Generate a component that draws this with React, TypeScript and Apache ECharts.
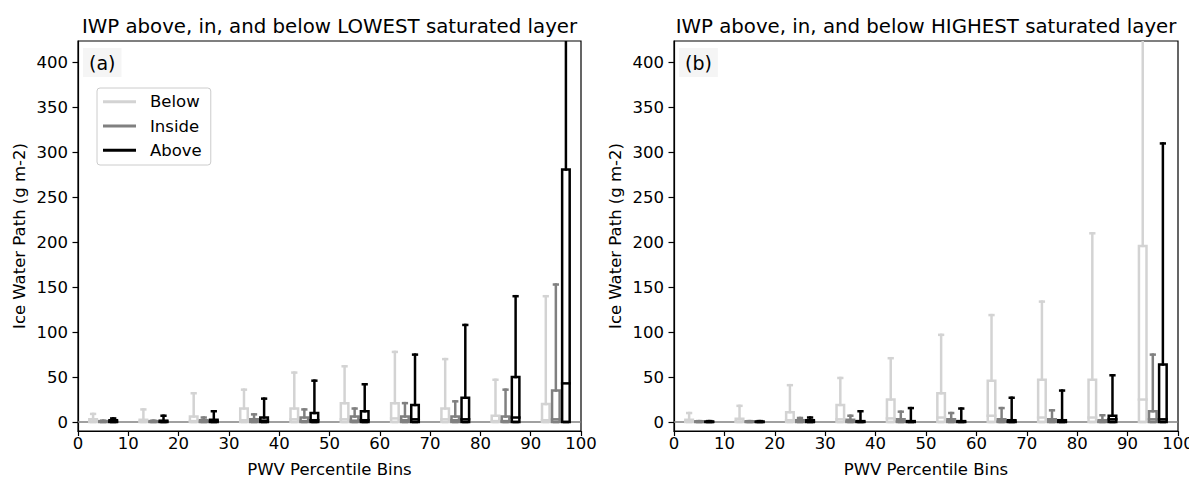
import React, { useEffect, useRef } from "react";
import * as echarts from "echarts";

// ---------- data ----------
const X_TICKS = [0, 10, 20, 30, 40, 50, 60, 70, 80, 90, 100];
const Y_TICKS = [0, 50, 100, 150, 200, 250, 300, 350, 400];
const BIN_STARTS = [0, 10, 20, 30, 40, 50, 60, 70, 80, 90];
const GROUP_NAMES = ["Below", "Inside", "Above"];
const GROUP_OFFSETS = [3, 5, 7];
const ZERO_LINE_X = [0, 100];

// each row: [min, q1, median, q3, upper whisker]
const LOWEST_BELOW = [
  [0, 0, 0.5, 3, 9],
  [0, 0, 0.5, 2.5, 14],
  [0, 0, 1, 6, 32],
  [0, 0, 2, 15, 36],
  [0, 0, 3, 15, 55],
  [0, 0, 3, 21, 62],
  [0, 0, 4, 21, 78],
  [0, 0, 3, 15, 70],
  [0, 0, 1, 7, 47],
  [0, 0, 2, 20, 140],
];
const LOWEST_INSIDE = [
  [0, 0, 0.3, 1, 1.5],
  [0, 0, 0.3, 1, 1.5],
  [0, 0, 0.5, 2, 5],
  [0, 0, 1, 3, 8.5],
  [0, 0, 1, 5, 14],
  [0, 0, 1.5, 6, 15],
  [0, 0, 2, 6, 21],
  [0, 0, 2, 6, 23],
  [0, 0, 1, 6, 36],
  [0, 0, 3, 35, 153],
];
const LOWEST_ABOVE = [
  [0, 0, 0.5, 2, 4],
  [0, 0, 0.5, 1.5, 7],
  [0, 0, 1, 2.5, 12],
  [0, 0, 1.5, 5, 26],
  [0, 0, 2, 10, 46],
  [0, 0, 2, 12, 42],
  [0, 0, 3, 19, 75],
  [0, 0, 3, 27, 108],
  [0, 0, 5, 50, 140],
  [0, 0, 43, 281, 600],
];
const HIGHEST_BELOW = [
  [0, 0, 0.5, 2.5, 10],
  [0, 0, 0.5, 3.5, 18],
  [0, 0, 2, 11, 41],
  [0, 0, 3, 19, 49],
  [0, 0, 4, 25, 71],
  [0, 0, 5, 32, 97],
  [0, 0, 7, 46, 119],
  [0, 0, 5, 47, 134],
  [0, 0, 5, 47, 210],
  [0, 0, 25, 196, 700],
];
const HIGHEST_INSIDE = [
  [0, 0, 0.2, 0.8, 1],
  [0, 0, 0.2, 0.8, 1],
  [0, 0, 0.5, 2, 4.5],
  [0, 0, 0.7, 2.5, 7],
  [0, 0, 1, 3, 11.5],
  [0, 0, 1, 3, 10],
  [0, 0, 1, 3, 15.5],
  [0, 0, 1, 3, 13],
  [0, 0, 0.5, 2, 7.5],
  [0, 0, 3, 12, 75],
];
const HIGHEST_ABOVE = [
  [0, 0, 0.2, 0.5, 1],
  [0, 0, 0.2, 0.5, 1],
  [0, 0, 0.5, 2, 5],
  [0, 0, 0.3, 1, 12],
  [0, 0, 0.3, 1, 15.5],
  [0, 0, 0.3, 1, 15],
  [0, 0, 0.5, 2, 27],
  [0, 0, 0.5, 2, 35],
  [0, 0, 3, 7, 52],
  [0, 0, 3, 64, 310],
];

const TITLES = [
  "IWP above, in, and below LOWEST saturated layer",
  "IWP above, in, and below HIGHEST saturated layer",
];
const PANEL_LABELS = ["(a)", "(b)"];
const COLORS = ["#d3d3d3", "#808080", "#000000"];

const Y_MIN = -10;
const Y_MAX = 424;
const FONT = "DejaVu Sans";
const LW = 2.5;

function renderBox(params: any, api: any) {
  const x = api.value(0);
  const clampV = (v: number) => Math.min(v, Y_MAX + 5);
  const lo = api.coord([x, api.value(1)]);
  const q1 = api.coord([x, api.value(2)]);
  const md = api.coord([x, api.value(3)]);
  const q3 = api.coord([x, api.value(4)]);
  const hi = api.coord([x, clampV(api.value(5))]);
  const unit = api.size([1, 0])[0];
  const hb = unit * 0.75;
  const hc = unit * 0.375;
  const color = api.visual("color");
  const st = { stroke: color, lineWidth: LW, fill: null, lineCap: "square" };
  const showCap = api.value(5) <= Y_MAX;
  const children: any[] = [
    { type: "line", shape: { x1: lo[0], y1: lo[1], x2: q1[0], y2: q1[1] }, style: st },
    { type: "line", shape: { x1: q3[0], y1: q3[1], x2: hi[0], y2: hi[1] }, style: st },
    { type: "line", shape: { x1: lo[0] - hc, y1: lo[1], x2: lo[0] + hc, y2: lo[1] }, style: st },
    {
      type: "rect",
      shape: { x: q3[0] - hb, y: q3[1], width: hb * 2, height: q1[1] - q3[1] },
      style: { stroke: color, lineWidth: LW, fill: null },
    },
    { type: "line", shape: { x1: md[0] - hb, y1: md[1], x2: md[0] + hb, y2: md[1] }, style: st },
  ];
  if (showCap) {
    children.push({
      type: "line",
      shape: { x1: hi[0] - hc, y1: hi[1], x2: hi[0] + hc, y2: hi[1] },
      style: st,
    });
  }
  return { type: "group", children };
}

function buildData(rows: number[][], offset: number) {
  return rows.map((r, i) => [BIN_STARTS[i] + offset, ...r]);
}

export default function App() {
  const ref = useRef<HTMLDivElement>(null);
  useEffect(() => {
    if (!ref.current) return;
    const chart = echarts.init(ref.current, null, { renderer: "svg" });
    const grids = [
      { left: 78, right: 1197 - 581, top: 41, bottom: 51 },
      { left: 674, right: 1197 - 1178, top: 41, bottom: 51 },
    ];
    const panelSets = [
      [LOWEST_BELOW, LOWEST_INSIDE, LOWEST_ABOVE],
      [HIGHEST_BELOW, HIGHEST_INSIDE, HIGHEST_ABOVE],
    ];
    const axisText = { color: "#000", fontSize: 16.5, fontFamily: FONT };
    const xAxes = grids.map((_, i) => ({
      type: "value",
      gridIndex: i,
      min: 0,
      max: 100,
      interval: 10,
      axisLine: { show: true, onZero: false, lineStyle: { color: "#000", width: 1.2 } },
      axisTick: { show: true, inside: false, length: 5, lineStyle: { color: "#000", width: 1.2 } },
      axisLabel: { ...axisText, margin: 4, formatter: (v: number) => (X_TICKS.includes(v) ? String(v) : "") },
      splitLine: { show: false },
      name: "PWV Percentile Bins",
      nameLocation: "middle",
      nameGap: 30,
      nameTextStyle: axisText,
    }));
    const yAxes = grids.map((_, i) => ({
      type: "value",
      gridIndex: i,
      min: Y_MIN,
      max: Y_MAX,
      axisLine: { show: true, onZero: false, lineStyle: { color: "#000", width: 1.2 } },
      axisTick: { show: true, inside: false, length: 5.5, customValues: Y_TICKS, lineStyle: { color: "#000", width: 1.2 } },
      axisLabel: { ...axisText, margin: 10, customValues: Y_TICKS },
      splitLine: { show: false },
      name: "Ice Water Path (g m-2)",
      nameLocation: "middle",
      nameGap: 50,
      nameTextStyle: axisText,
    }));
    const series: any[] = [];
    panelSets.forEach((sets, p) => {
      series.push({
        type: "line",
        name: "zero",
        xAxisIndex: p,
        yAxisIndex: p,
        data: ZERO_LINE_X.map((x) => [x, 0]),
        symbol: "none",
        silent: true,
        lineStyle: { color: "#808080", width: 1.6 },
        z: 1,
      });
      sets.forEach((rows, g) => {
        series.push({
          type: "custom",
          name: GROUP_NAMES[g],
          xAxisIndex: p,
          yAxisIndex: p,
          clip: true,
          itemStyle: { color: COLORS[g] },
          renderItem: renderBox,
          encode: { x: 0, y: [1, 2, 3, 4, 5] },
          data: buildData(rows, GROUP_OFFSETS[g]),
          z: 2,
        });
      });
    });
    const titles: any[] = [];
    TITLES.forEach((t, i) => {
      const g = grids[i];
      const cx = (g.left + (1197 - g.right)) / 2;
      titles.push({
        text: t,
        left: cx,
        top: 16,
        textAlign: "center",
        textStyle: { color: "#000", fontSize: 19.75, fontWeight: "normal", fontFamily: FONT },
        padding: 0,
      });
      titles.push({
        text: PANEL_LABELS[i],
        left: g.left + 5,
        top: 48,
        backgroundColor: "#f5f5f5",
        padding: [5, 6, 5, 6],
        textStyle: { color: "#000", fontSize: 19, fontWeight: "normal", fontFamily: FONT, lineHeight: 19 },
      });
    });
    chart.setOption({
      animation: false,
      backgroundColor: "#fff",
      title: titles,
      grid: grids.map((g) => ({ ...g, show: true, borderColor: "#000", borderWidth: 1.2, backgroundColor: "transparent" })),
      xAxis: xAxes,
      yAxis: yAxes,
      legend: {
        orient: "vertical",
        left: 97,
        top: 88,
        itemWidth: 33,
        itemHeight: 3,
        icon: "rect",
        itemGap: 7.3,
        padding: [5.2, 9, 6.2, 6],
        borderColor: "#cccccc",
        borderWidth: 1,
        borderRadius: 3,
        backgroundColor: "rgba(255,255,255,0.8)",
        textStyle: { color: "#000", fontSize: 16.5, fontFamily: FONT, lineHeight: 17, padding: [0, 0, 0, 9] },
        data: GROUP_NAMES.map((n, i) => ({ name: n, itemStyle: { color: COLORS[i] } })),
        selectedMode: false,
      },
      series,
    });
    return () => chart.dispose();
  }, []);
  return <div ref={ref} style={{ width: 1197, height: 483, margin: -8 }} />;
}
